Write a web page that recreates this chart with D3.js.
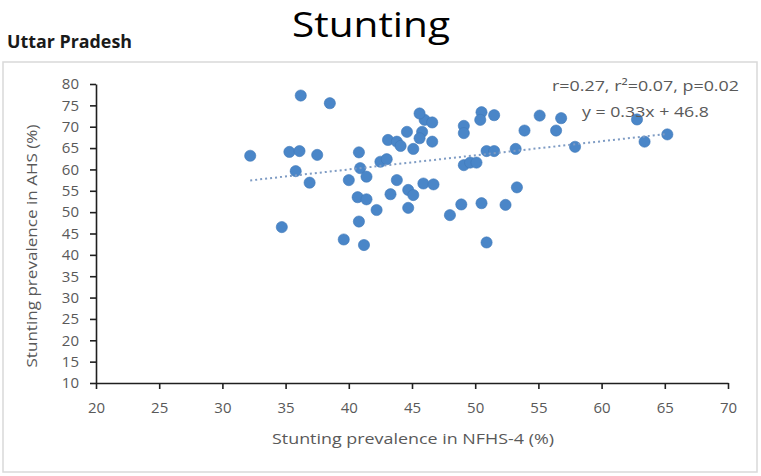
<!DOCTYPE html>
<html>
<head>
<meta charset="utf-8">
<script src="https://cdn.jsdelivr.net/npm/d3@7/dist/d3.min.js"></script>
<style>
  html, body { margin: 0; padding: 0; background: #fff; }
  svg { display: block; }
</style>
</head>
<body>
<svg id="chart" width="761" height="476"></svg>
<script>
// ---- data ----
const nfhs4 = [32.2, 35.3, 36.1, 37.5, 36.2, 38.5, 35.8, 36.9, 34.7, 39.6, 41.2, 40.8, 40.0, 40.9, 41.4, 40.8,
  40.7, 41.4, 42.2, 43.3, 43.8, 44.7, 45.1, 44.7, 45.9, 46.7, 42.5, 43.0, 44.6, 45.8, 45.6, 43.1, 43.8, 44.1,
  46.6, 45.1, 46.0, 46.6, 45.6, 49.1, 49.1, 49.1, 49.6, 50.1, 50.5, 50.4, 51.5, 50.9, 51.5, 53.2, 53.9, 55.1,
  56.8, 56.4, 57.9, 62.8, 63.4, 65.2, 53.3, 52.4, 50.5, 48.9, 50.9, 48.0];
const ahs = [63.2, 64.1, 64.3, 63.4, 77.3, 75.5, 59.6, 56.9, 46.5, 43.6, 42.3, 47.8, 57.5, 60.3, 58.3, 64.0,
  53.5, 53.0, 50.5, 54.2, 57.5, 55.2, 54.0, 51.0, 56.7, 56.5, 61.8, 62.4, 68.8, 68.8, 67.3, 66.9, 66.5, 65.5,
  66.5, 64.8, 71.6, 71.0, 73.1, 70.2, 68.5, 61.0, 61.6, 61.6, 73.4, 71.6, 72.7, 64.3, 64.3, 64.8, 69.1, 72.6,
  72.0, 69.1, 65.3, 71.7, 66.5, 68.2, 55.8, 51.7, 52.1, 51.8, 42.9, 49.3];
const xTicks = [20, 25, 30, 35, 40, 45, 50, 55, 60, 65, 70];
const yTicks = [10, 15, 20, 25, 30, 35, 40, 45, 50, 55, 60, 65, 70, 75, 80];
const trendSlope = 0.33;
const trendIntercept = 46.8;
const statsLabel = "r=0.27, r\u00B2=0.07, p=0.02";
const equationLabel = "y = 0.33x + 46.8";
const chartTitle = "Stunting";
const stateLabel = "Uttar Pradesh";
const xTitle = "Stunting prevalence in NFHS-4 (%)";
const yTitle = "Stunting prevalence in AHS (%)";

const points = nfhs4.map((v, i) => ({ x: v, y: ahs[i] }));

// ---- layout ----
const svg = d3.select("#chart");
const plotLeft = 96, plotRight = 728, plotTop = 84, plotBottom = 383;
const x = d3.scaleLinear().domain([20, 70]).range([plotLeft, plotRight]);
const y = d3.scaleLinear().domain([10, 80]).range([plotBottom, plotTop]);
const font = "'Open Sans', 'Noto Sans', sans-serif";
const gray = "#595959";

// panel border
svg.append("rect")
  .attr("x", 3).attr("y", 62).attr("width", 754).attr("height", 410)
  .attr("fill", "#fff").attr("stroke", "#d9d9d9").attr("stroke-width", 1.5);

// title
svg.append("text")
  .attr("x", 371).attr("y", 37).attr("text-anchor", "middle")
  .attr("font-family", font).attr("font-size", 35).attr("fill", "#000")
  .attr("textLength", 158).attr("lengthAdjust", "spacingAndGlyphs")
  .text(chartTitle);

// state label
svg.append("text")
  .attr("x", 7).attr("y", 48)
  .attr("font-family", font).attr("font-size", 17).attr("font-weight", "bold").attr("fill", "#1a1a1a")
  .attr("textLength", 125).attr("lengthAdjust", "spacingAndGlyphs")
  .text(stateLabel);

// axes
const xAxis = d3.axisBottom(x).tickValues(xTicks).tickSize(6).tickSizeOuter(0).tickPadding(13);
const yAxis = d3.axisLeft(y).tickValues(yTicks).tickSize(6).tickSizeOuter(0).tickPadding(11);

const gx = svg.append("g").attr("transform", `translate(0,${plotBottom})`).call(xAxis);
const gy = svg.append("g").attr("transform", `translate(${plotLeft},0)`).call(yAxis);
[gx, gy].forEach(g => {
  g.select(".domain").attr("stroke", "#1f1f1f").attr("stroke-width", 1.6);
  g.selectAll(".tick line").attr("stroke", "#1f1f1f").attr("stroke-width", 1.6);
  g.selectAll(".tick text").attr("font-family", font).attr("font-size", 15).attr("fill", gray);
});

// axis titles
svg.append("text")
  .attr("x", 413).attr("y", 444).attr("text-anchor", "middle")
  .attr("font-family", font).attr("font-size", 15).attr("fill", gray)
  .attr("textLength", 282).attr("lengthAdjust", "spacingAndGlyphs")
  .text(xTitle);
svg.append("text")
  .attr("transform", "translate(37,246) rotate(-90)").attr("text-anchor", "middle")
  .attr("font-family", font).attr("font-size", 15).attr("fill", gray)
  .attr("textLength", 243).attr("lengthAdjust", "spacingAndGlyphs")
  .text(yTitle);

// points
svg.append("g").selectAll("circle").data(points).join("circle")
  .attr("cx", d => x(d.x)).attr("cy", d => y(d.y)).attr("r", 5.6)
  .attr("fill", "#4a86c8").attr("stroke", "#3f78b8").attr("stroke-width", 0.6);

// trend line
const xExt = d3.extent(nfhs4);
const line = d3.line().x(d => x(d)).y(d => y(trendSlope * d + trendIntercept));
svg.append("path")
  .attr("d", line(xExt))
  .attr("fill", "none").attr("stroke", "#7f9cc4").attr("stroke-width", 2)
  .attr("stroke-dasharray", "2,3");

// annotation
svg.append("text")
  .attr("x", 645.5).attr("y", 90.5).attr("text-anchor", "middle")
  .attr("font-family", font).attr("font-size", 15).attr("fill", gray)
  .attr("textLength", 187).attr("lengthAdjust", "spacingAndGlyphs")
  .text(statsLabel);
svg.append("text")
  .attr("x", 645.5).attr("y", 116.5).attr("text-anchor", "middle")
  .attr("font-family", font).attr("font-size", 15).attr("fill", gray)
  .attr("textLength", 127).attr("lengthAdjust", "spacingAndGlyphs")
  .text(equationLabel);
</script>
</body>
</html>
